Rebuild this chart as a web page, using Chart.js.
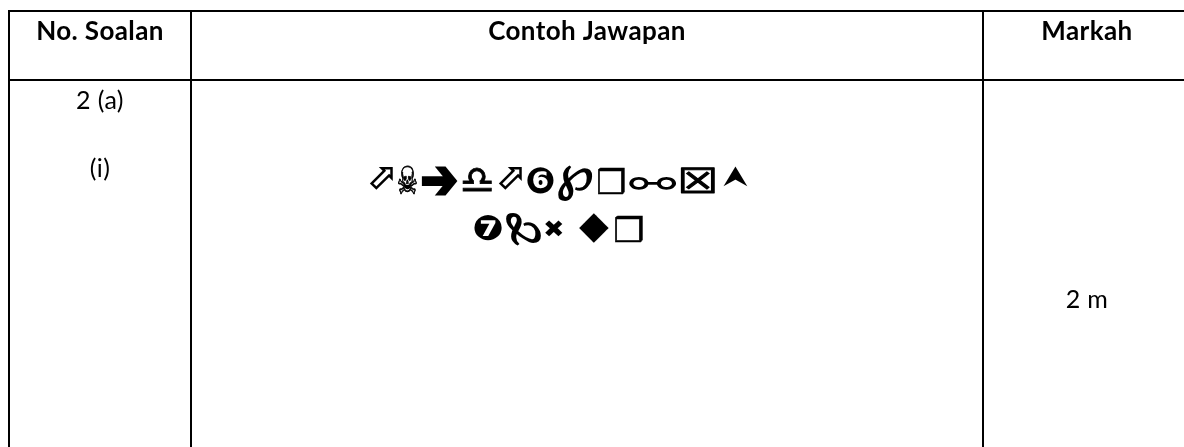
<!DOCTYPE html>
<html><head><meta charset="utf-8">
<style>html,body{margin:0;padding:0;background:#fff}canvas{display:block}</style>
<script src="https://cdn.jsdelivr.net/npm/chart.js@4/dist/chart.umd.min.js"></script>
</head><body><div style="width:1184px;height:447px"><canvas id="c" width="1184" height="447"></canvas></div>
<script>
const columnEdges=[9,191,983];
const rowEdges=[11,80];
const cellTexts=["No. Soalan","Contoh Jawapan","Markah","2 (a)","(i)","2 m"];
const cellX=[100,587,1087,100,100,1087];
const cellY=[40,40,40,109,177,308];
const symbolGlyphs=["⬀","☠","➔","♎","⬀","❻","℘","❒","⚯","☒","⮝","❼","℘","✖","◆","❒"];
const symbolX=[381,407.5,439.5,477.5,510,540.5,575.5,611.5,653,698,735,488,524,554,594,629];
const symbolY=[178,179.5,180.5,179,178,180,183,180.5,183.5,180.5,177,228,229.5,228.5,228,228.5];
// drawing styles (not data)
const cellBold=[true,true,true,false,false,false];
const glyphBoxW=[24,19,33,29,24,27,35,27,48,34,24,28,36,18,30,28];
const glyphBoxH=[23,29,27,24,23,27,36,27,14,27,20,26,-33,16,30,27];
const glyphStroke=[0,0.8,2.5,0.8,0,0,0,0.6,0,1.2,0,0,0,0,0,0.6];
const glyphWeight=['bold','bold','bold','bold','bold','bold','bold','bold','normal','bold','bold','bold','bold','bold','bold','bold'];
const labelPlugin={id:'labels',afterDatasetsDraw(chart){
  const ctx=chart.ctx;ctx.save();ctx.fillStyle='#000';ctx.strokeStyle='#000';ctx.textAlign='center';ctx.textBaseline='alphabetic';
  ctx.letterSpacing='0.4px';
  chart.getDatasetMeta(0).data.forEach((p,i)=>{ctx.font=(cellBold[i]?'bold 26px':'25px')+' Lato';ctx.fillText(cellTexts[i],p.x,p.y);});
  ctx.letterSpacing='0px';
  chart.getDatasetMeta(1).data.forEach((p,i)=>{
    const g=symbolGlyphs[i];
    ctx.font=glyphWeight[i]+' 40px "DejaVu Sans"';
    ctx.textAlign='left';
    const m=ctx.measureText(g);
    const bw=m.actualBoundingBoxRight+m.actualBoundingBoxLeft, bh=m.actualBoundingBoxAscent+m.actualBoundingBoxDescent;
    const tx=-(m.actualBoundingBoxRight-m.actualBoundingBoxLeft)/2, ty=(m.actualBoundingBoxAscent-m.actualBoundingBoxDescent)/2;
    ctx.save();ctx.translate(p.x,p.y);ctx.scale(glyphBoxW[i]/bw,glyphBoxH[i]/bh);
    ctx.fillText(g,tx,ty);
    if(glyphStroke[i]){ctx.lineWidth=glyphStroke[i];ctx.strokeText(g,tx,ty);}
    ctx.restore();ctx.textAlign='center';
  });
  ctx.restore();}};
new Chart(document.getElementById('c'),{type:'scatter',
 data:{datasets:[
  {data:cellX.map((x,i)=>({x,y:cellY[i]})),pointRadius:0},
  {data:symbolX.map((x,i)=>({x,y:symbolY[i]})),pointRadius:0}]},
 options:{responsive:false,animation:false,
  layout:{padding:{left:8,top:10,right:0,bottom:0}},
  plugins:{legend:{display:false},tooltip:{enabled:false}},
  scales:{
   x:{type:'linear',min:8,max:1184,afterBuildTicks(s){s.ticks=columnEdges.map(value=>({value}));},
      border:{display:false},grid:{color:'#000',lineWidth:2,drawTicks:false},ticks:{display:false}},
   y:{type:'linear',reverse:true,min:10,max:447,afterBuildTicks(s){s.ticks=rowEdges.map(value=>({value}));},
      border:{display:false},grid:{color:'#000',lineWidth:2,drawTicks:false},ticks:{display:false}}
  }},plugins:[labelPlugin]});
</script></body></html>
